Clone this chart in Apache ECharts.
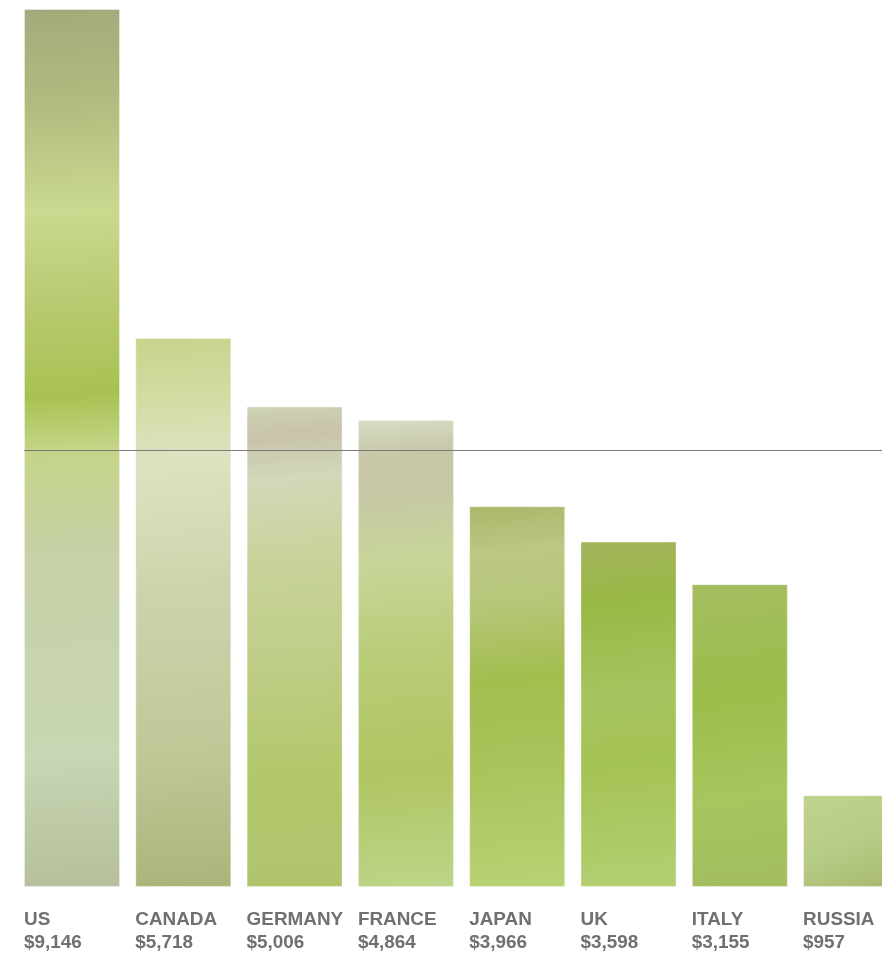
<!DOCTYPE html>
<html>
<head>
<meta charset="utf-8">
<script src="https://cdn.jsdelivr.net/npm/echarts@6/dist/echarts.min.js"></script>
<style>
html,body{margin:0;padding:0;background:#fff;}
#chart{width:882px;height:953px;}
</style>
</head>
<body>
<div id="chart"></div>
<script>
// ---- data ----
const countries = ['US','CANADA','GERMANY','FRANCE','JAPAN','UK','ITALY','RUSSIA'];
const values = [9146, 5718, 5006, 4864, 3966, 3598, 3155, 957];
const valueLabels = ['$9,146','$5,718','$5,006','$4,864','$3,966','$3,598','$3,155','$957'];

// ---- styles (gradient stops per bar, top -> bottom) ----
const barStops = [
  [[0,'#a5aa7c'],[0.1,'#b1b97e'],[0.23,'#c9d98f'],[0.33,'#b8cb72'],[0.44,'#a9c152'],[0.5,'#c3d587'],[0.62,'#c6d1a7'],[0.85,'#c8d6b3'],[1,'#b5bf9b']],
  [[0,'#c7d48d'],[0.1,'#d0dca0'],[0.22,'#dce3c1'],[0.45,'#cdd4ad'],[0.75,'#c0c898'],[1,'#abb57a']],
  [[0,'#ced2b3'],[0.06,'#c8c3a9'],[0.15,'#d2d8b9'],[0.32,'#c8d39a'],[0.55,'#bdcd85'],[0.75,'#b3c86c'],[1,'#b0c46c']],
  [[0,'#d6dbc2'],[0.08,'#c7c6a6'],[0.16,'#c6c7a4'],[0.3,'#c7d699'],[0.5,'#b9cc78'],[0.75,'#b0c562'],[1,'#bdd488']],
  [[0,'#aab96c'],[0.12,'#bcc783'],[0.25,'#b6c77a'],[0.45,'#a3bd4e'],[0.66,'#a9c25a'],[1,'#b8d274']],
  [[0,'#a3b45c'],[0.17,'#99b845'],[0.45,'#a8c460'],[0.63,'#a5c254'],[1,'#b3cf72']],
  [[0,'#a5bd60'],[0.35,'#9abd4a'],[0.7,'#a7c65e'],[1,'#a3bd60']],
  [[0,'#bfd28c'],[0.5,'#b7cc88'],[1,'#a9bc70']]
];

const catW = 111.3, barW = 96, leftPx = 24, chartW = 882;
const xMin = -(barW / 2) / catW;
const xMax = xMin + (chartW - leftPx) / catW;

const seriesData = values.map((v, i) => ({
  value: [i, v],
  itemStyle: {
    color: new echarts.graphic.LinearGradient(0.3, 0, 0.7, 1, barStops[i].map(s => ({offset: s[0], color: s[1]})))
  },
  label: { formatter: '{a|' + countries[i] + '}\n{a|' + valueLabels[i] + '}' }
}));

const chart = echarts.init(document.getElementById('chart'), null, {renderer: 'canvas'});
chart.setOption({
  animation: false,
  backgroundColor: '#ffffff',
  grid: { left: leftPx, right: 0, top: 9, bottom: 66, containLabel: false },
  xAxis: { type: 'value', min: xMin, max: xMax, show: false },
  yAxis: { type: 'value', min: 0, max: 9146, show: false },
  series: [{
    type: 'bar',
    barWidth: barW,
    clip: false,
    data: seriesData,
    itemStyle: { borderColor: 'rgba(255,255,255,0.35)', borderWidth: 1 },
    label: {
      show: true,
      position: [0, '100%'],
      offset: [0, 21],
      align: 'left',
      verticalAlign: 'top',
      rich: {
        a: { fontFamily: 'Liberation Sans, Arial, sans-serif', fontWeight: 'bold', fontSize: 18.9, color: '#6f7070', lineHeight: 23.5 }
      }
    },
    markLine: {
      silent: true,
      symbol: ['none','none'],
      label: { show: false },
      lineStyle: { color: '#7b7b7b', width: 1, type: 'solid' },
      data: [{ type: 'average', valueDim: 'y' }]
    }
  }]
});
</script>
</body>
</html>
